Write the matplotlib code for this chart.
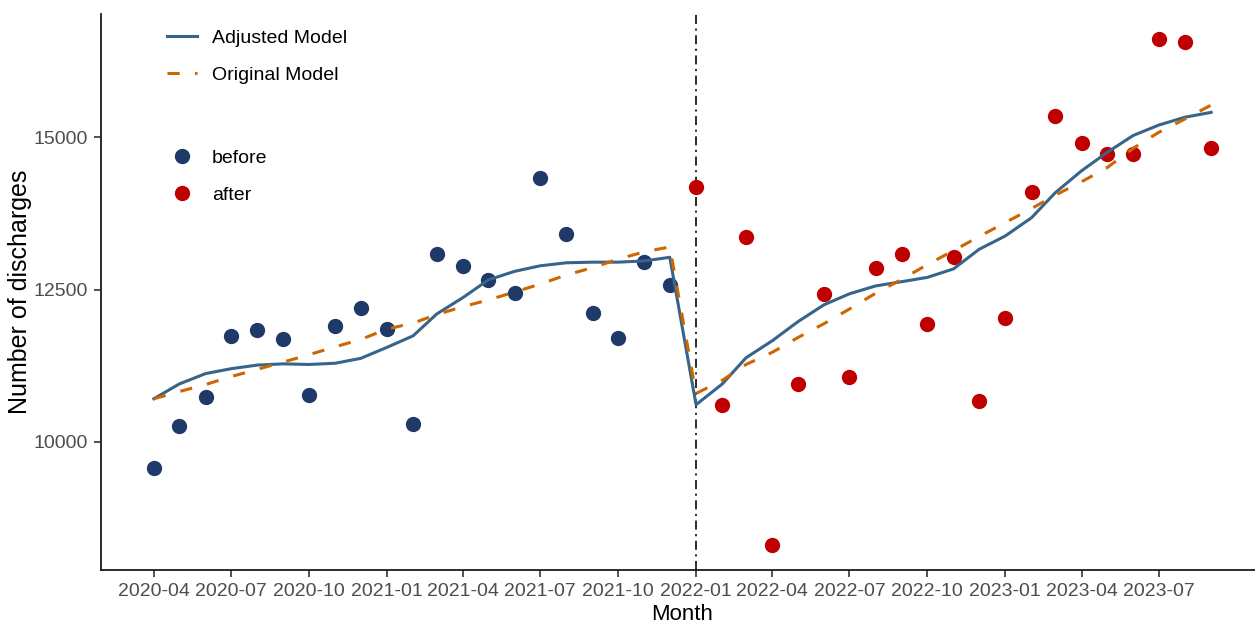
import pandas as pd
import matplotlib
matplotlib.use("Agg")
import matplotlib.pyplot as plt
from matplotlib.lines import Line2D

plt.rcParams['font.family'] = ['Liberation Sans', 'DejaVu Sans']

# monthly discharges, before / after the Jan 2022 change
months_before = pd.date_range('2020-04-01', '2021-12-01', freq='MS')
months_after = pd.date_range('2022-01-01', '2023-09-01', freq='MS')

before_counts = [9570, 10260, 10740, 11740, 11830, 11690, 10770, 11900, 12200, 11850, 10300,
                 13090, 12880, 12650, 12440, 14340, 13420, 12120, 11710, 12960, 12570]
after_counts = [14190, 10610, 13360, 8310, 10950, 12420, 11060, 12850, 13090, 11940, 13040,
                10670, 12040, 14100, 15350, 14900, 14730, 14730, 16610, 16570, 14820]

# fitted values of the two models
adjusted_before = [10707, 10950, 11120, 11200, 11260, 11280, 11270, 11290, 11370, 11550, 11740,
                   12100, 12370, 12660, 12800, 12890, 12940, 12950, 12950, 12970, 13030]
adjusted_after = [10610, 10950, 11380, 11660, 11970, 12250, 12430, 12560, 12630, 12700, 12840,
                  13160, 13380, 13680, 14090, 14450, 14750, 15030, 15200, 15330, 15410]
original_before = [10707, 10825, 10940, 11070, 11190, 11310, 11430, 11560, 11680, 11850, 11950,
                   12090, 12220, 12330, 12460, 12590, 12740, 12860, 13000, 13120, 13200]
original_after = [10794, 11010, 11270, 11470, 11710, 11940, 12180, 12440, 12670, 12910, 13140,
                  13370, 13600, 13830, 14050, 14270, 14500, 14820, 15080, 15300, 15530]

tick_months = pd.date_range('2020-04-01', '2023-07-01', freq='3MS')
change_month = pd.Timestamp('2022-01-01')

all_months = months_before.append(months_after)
adjusted = adjusted_before + adjusted_after
original = original_before + original_after

col_before = '#1F3A68'
col_after = '#C00000'
col_adj = '#36648B'
col_orig = '#CD6600'

W, H = 1255, 626
fig = plt.figure(figsize=(W / 100, H / 100), dpi=100)
ax = fig.add_axes([101 / W, 56 / H, (1264 - 101) / W, (570 - 14) / H])

ax.plot(months_before, before_counts, 'o', color=col_before, markersize=10, zorder=2)
ax.plot(months_after, after_counts, 'o', color=col_after, markersize=10, zorder=2)
ax.plot(all_months, adjusted, '-', color=col_adj, lw=2.2, zorder=3)
ax.plot(all_months, original, color=col_orig, lw=2.2, dashes=(4, 5), zorder=3)
ax.axvline(change_month, color='#1a1a1a', lw=1.3, dashes=(5, 2.5, 1.2, 2.5), zorder=1)

# ggplot-like 5% expansion
span = all_months[-1] - all_months[0]
ax.set_xlim(all_months[0] - span * 0.05, all_months[-1] + span * 0.05)
ymin = min(before_counts + after_counts)
ymax = max(before_counts + after_counts)
pad = (ymax - ymin) * 0.05
ax.set_ylim(ymin - pad, ymax + pad)

ax.set_xticks(tick_months)
ax.set_xticklabels([d.strftime('%Y-%m') for d in tick_months])
ax.set_yticks([10000, 12500, 15000])

for side in ['top', 'right']:
    ax.spines[side].set_visible(False)
for side in ['left', 'bottom']:
    ax.spines[side].set_linewidth(1.3)
    ax.spines[side].set_color('#1a1a1a')
ax.tick_params(axis='both', length=5, width=1.2, color='#333333',
               labelcolor='#4D4D4D', labelsize=14, pad=4.5)

ax.set_xlabel('Month', fontsize=16, labelpad=3)
ax.set_ylabel('Number of discharges', fontsize=18, labelpad=1)

line_handles = [Line2D([], [], color=col_adj, lw=2.2),
                Line2D([], [], color=col_orig, lw=2.2, dashes=(4, 5))]
leg1 = fig.legend(line_handles, ['Adjusted Model', 'Original Model'],
                  loc='upper left', bbox_to_anchor=(167 / W, 1 - 29 / H),
                  frameon=False, fontsize=14, handlelength=1.55, handletextpad=0.75,
                  labelspacing=1.0, borderpad=0, borderaxespad=0)

point_handles = [Line2D([], [], marker='o', ls='', color=col_before, markersize=10),
                 Line2D([], [], marker='o', ls='', color=col_after, markersize=10)]
leg2 = fig.legend(point_handles, ['before', 'after'],
                  loc='upper left', bbox_to_anchor=(167 / W, 1 - 149 / H),
                  frameon=False, fontsize=14, handlelength=1.55, handletextpad=0.75,
                  labelspacing=1.0, borderpad=0, borderaxespad=0)

fig.savefig('out.png', dpi=100)
